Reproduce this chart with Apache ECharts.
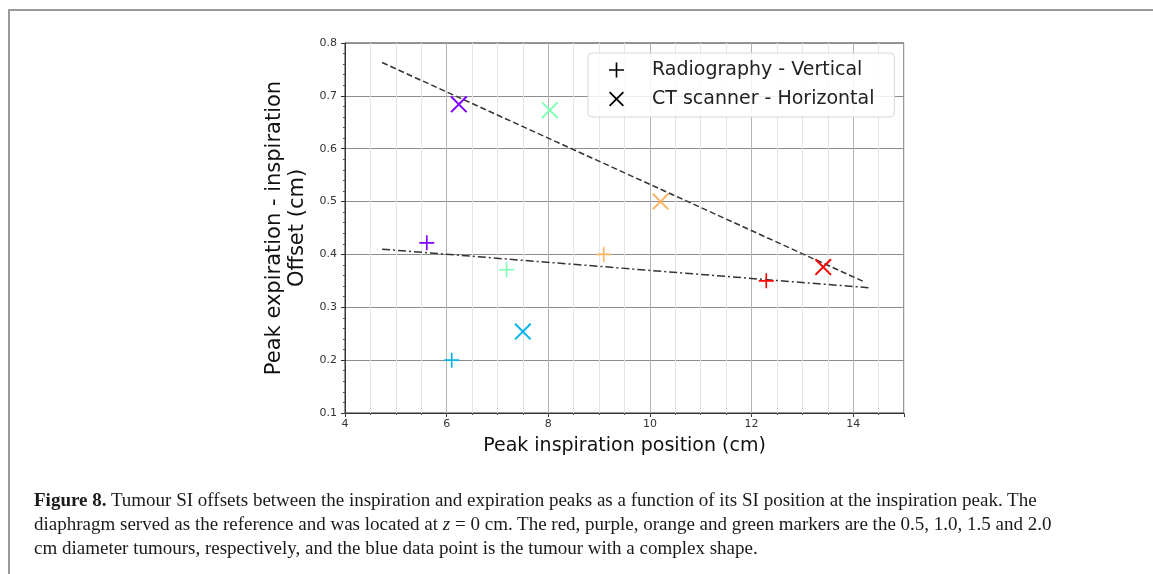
<!DOCTYPE html>
<html>
<head>
<meta charset="utf-8">
<script src="https://cdn.jsdelivr.net/npm/echarts@6/dist/echarts.min.js"></script>
<style>
html,body{margin:0;padding:0;background:#fff;}
#wrap{position:relative;width:1153px;height:574px;overflow:hidden;background:#fff;}
#chart{position:absolute;left:0;top:0;width:1153px;height:574px;}
#frame{position:absolute;left:8px;top:9px;width:1160px;height:600px;border-top:2px solid #9a9a9a;border-left:2px solid #9a9a9a;}
#caption{position:absolute;left:34px;top:488px;font-family:"Liberation Serif","DejaVu Serif",serif;font-size:19px;line-height:24px;color:#1a1a1a;white-space:nowrap;}
</style>
</head>
<body>
<div id="wrap">
<div id="frame"></div>
<div id="chart"></div>
<div id="caption"><b>Figure 8.</b> Tumour SI offsets between the inspiration and expiration peaks as a function of its SI position at the inspiration peak. The<br>diaphragm served as the reference and was located at <i>z</i> = 0 cm. The red, purple, orange and green markers are the 0.5, 1.0, 1.5 and 2.0<br>cm diameter tumours, respectively, and the blue data point is the tumour with a complex shape.</div>
</div>
<script>
// ---- data ----
const tumours = ['purple (1.0 cm)', 'green (2.0 cm)', 'orange (1.5 cm)', 'red (0.5 cm)', 'blue (complex)'];
const tumourColors = ['#8000ff', '#80ffb4', '#ffb462', '#ff0000', '#00b4eb'];
const radX = [5.61, 7.18, 9.09, 12.29, 6.10];
const radY = [0.422, 0.371, 0.400, 0.350, 0.200];
const ctX = [6.24, 8.03, 10.21, 13.41, 7.50];
const ctY = [0.684, 0.673, 0.500, 0.376, 0.254];
const fitCtX = [4.73, 14.22];
const fitCtY = [0.763, 0.348];
const fitRadX = [4.73, 14.30];
const fitRadY = [0.410, 0.337];
const xTicks = [4, 6, 8, 10, 12, 14];
const yTicks = [0.1, 0.2, 0.3, 0.4, 0.5, 0.6, 0.7, 0.8];
const seriesNames = ['Radiography - Vertical', 'CT scanner - Horizontal'];

// ---- symbols ----
const PLUS = 'path://M0,44.5H100V55.5H0Z M44.5,0H55.5V100H44.5Z';
const CROSS = 'path://M0,8.3L8.3,0L100,91.7L91.7,100Z M91.7,0L100,8.3L8.3,100L0,91.7Z';

function pts(xs, ys, colors) {
  return xs.map((x, i) => {
    const o = { value: [x, ys[i]] };
    if (colors) o.itemStyle = { color: colors[i] };
    return o;
  });
}

const chart = echarts.init(document.getElementById('chart'), null, { renderer: 'canvas' });
const tickFont = { fontFamily: 'DejaVu Sans', fontSize: 11, color: '#333' };
chart.setOption({
  animation: false,
  backgroundColor: 'transparent',
  grid: { left: 345, top: 43, right: 249, bottom: 161, show: true, borderColor: '#333', borderWidth: 1, backgroundColor: 'transparent' },
  legend: {
    orient: 'vertical', left: 588, top: 53,
    padding: [7, 20, 8, 21],
    itemWidth: 15, itemHeight: 15, itemGap: 9,
    backgroundColor: 'rgba(255,255,255,0.85)', borderColor: '#d6d6d6', borderWidth: 1, borderRadius: 4,
    textStyle: { fontFamily: 'DejaVu Sans', fontSize: 19, color: '#222', lineHeight: 20, padding: [0, 0, 0, 23] },
    data: [
      { name: seriesNames[0], icon: PLUS, itemStyle: { color: '#000' } },
      { name: seriesNames[1], icon: CROSS, itemStyle: { color: '#000' } }
    ]
  },
  xAxis: [
    {
      type: 'value', min: xTicks[0], max: 15, interval: 2,
      name: 'Peak inspiration position (cm)', nameLocation: 'middle', nameGap: 24,
      nameTextStyle: { fontFamily: 'DejaVu Sans', fontSize: 19, color: '#111' },
      axisLine: { show: true, lineStyle: { color: '#333', width: 1 } },
      axisTick: { show: true, inside: false, length: 4, lineStyle: { color: '#333' } },
      axisLabel: Object.assign({ margin: 6, formatter: v => (xTicks.indexOf(v) >= 0 ? String(v) : '') }, tickFont),
      splitLine: { show: false }
    },
    {
      type: 'value', min: xTicks[0], max: 15, interval: 0.5, position: 'bottom',
      axisLine: { show: false },
      axisTick: { show: true, inside: false, length: 2, lineStyle: { color: '#555' } },
      axisLabel: { show: false },
      splitLine: { show: true, lineStyle: { width: 1, color: ['#b4b4b4', '#e4e4e4', '#e4e4e4', '#e4e4e4'] } }
    }
  ],
  yAxis: {
    type: 'value', min: yTicks[0], max: yTicks[yTicks.length - 1], interval: 0.1,
    name: 'Peak expiration - inspiration\nOffset (cm)', nameLocation: 'middle', nameGap: 36, nameRotate: 90,
    nameTextStyle: { fontFamily: 'DejaVu Sans', fontSize: 21, lineHeight: 23, color: '#111', align: 'center' },
    axisLine: { show: true, lineStyle: { color: '#333', width: 1 } },
    axisTick: { show: true, inside: false, length: 4, lineStyle: { color: '#333' } },
    minorTick: { show: true, splitNumber: 5, length: 2, lineStyle: { color: '#555' } },
    axisLabel: Object.assign({ margin: 8, formatter: v => v.toFixed(1) }, tickFont),
    splitLine: { show: true, lineStyle: { color: '#8c8c8c', width: 1.2 } }
  },
  series: [
    {
      name: seriesNames[0], type: 'scatter', xAxisIndex: 0, symbol: PLUS, symbolSize: 15,
      itemStyle: { color: '#000', opacity: 1 }, z: 5,
      data: pts(radX, radY, tumourColors)
    },
    {
      name: seriesNames[1], type: 'scatter', xAxisIndex: 0, symbol: CROSS, symbolSize: 17,
      itemStyle: { color: '#000', opacity: 1 }, z: 5,
      data: pts(ctX, ctY, tumourColors)
    },
    {
      name: 'fit CT', type: 'line', xAxisIndex: 0, showSymbol: false, symbol: 'none', z: 4,
      lineStyle: { color: '#333', width: 1.5, type: [6, 3] },
      data: pts(fitCtX, fitCtY)
    },
    {
      name: 'fit Radiography', type: 'line', xAxisIndex: 0, showSymbol: false, symbol: 'none', z: 4,
      lineStyle: { color: '#333', width: 1.5, type: [8, 3, 2, 3] },
      data: pts(fitRadX, fitRadY)
    }
  ]
});
</script>
</body>
</html>
